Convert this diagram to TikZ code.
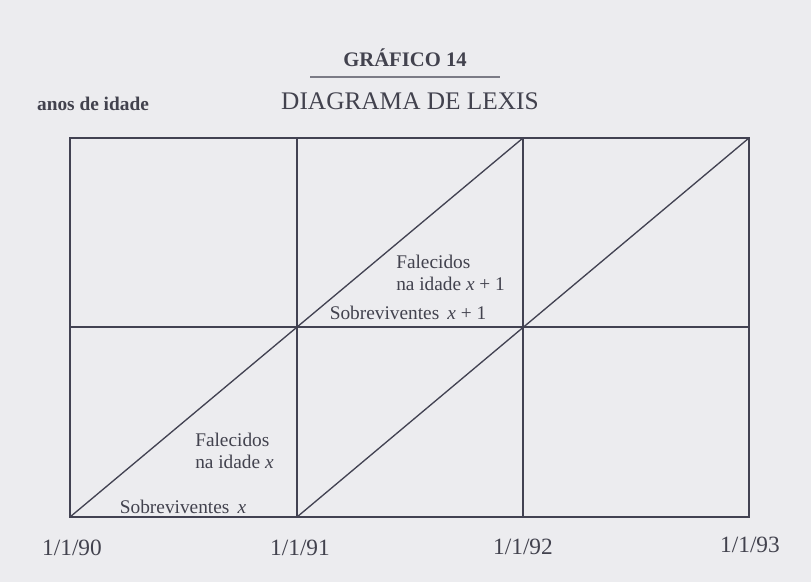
\documentclass[tikz,border=0pt]{standalone}
\usepackage{fontspec}
\setmainfont{Liberation Serif}
\definecolor{paper}{RGB}{236,236,239}
\definecolor{ink}{RGB}{66,66,82}
\definecolor{txt}{RGB}{66,66,78}
\newcommand{\xv}{\textit{x}}
\begin{document}
\begin{tikzpicture}[x=0.75pt,y=-0.75pt,
  grid/.style={draw=ink,line width=1pt},
  lbl/.style={text=txt,font=\fontsize{14.5}{16.5}\selectfont,inner sep=0pt},
  date/.style={text=txt,font=\fontsize{17.5}{20}\selectfont,inner sep=0pt}]
\useasboundingbox (0,0) rectangle (811,582);
\fill[paper] (0,0) rectangle (811,582);
% grid points
\foreach \c/\x in {0/70,1/297,2/523,3/749}{
  \coordinate (A\c) at (\x,517);
  \coordinate (M\c) at (\x,327);
  \coordinate (T\c) at (\x,138);
}
% frame and lines
\draw[grid] (A0) rectangle (T3);
\draw[grid] (M0) -- (M3);
\draw[grid] (A1) -- (T1);
\draw[grid] (A2) -- (T2);
\draw[grid] (A0) -- (T2);
\draw[grid] (A1) -- (T3);
% titles
\node[text=txt,font=\bfseries\fontsize{15.5}{18}\selectfont,inner sep=0pt] (tit) at (405,58) {GRÁFICO 14};
\draw[draw=ink!70,line width=0.8pt] (310,77) coordinate (ul1) -- (500,77) coordinate (ul2);
\node[text=txt,font=\fontsize{19}{22}\selectfont,inner sep=0pt] (sub) at (410,101) {DIAGRAMA DE LEXIS};
\node[text=txt,font=\bfseries\fontsize{14.5}{16}\selectfont,inner sep=0pt] (yl) at (93,104) {anos de idade};
% labels
\node[lbl,align=left,anchor=west] (f1) at (195,451) {Falecidos\\na idade \xv};
\node[lbl] (s1) at (183,507) {Sobreviventes \,\xv};
\node[lbl,align=left,anchor=west] (f2) at (396,273) {Falecidos\\na idade \xv{} + 1};
\node[lbl] (s2) at (408,313) {Sobreviventes \,\xv{} + 1};
% dates
\node[date] (d0) at (72,548) {1/1/90};
\node[date] (d1) at (300,548) {1/1/91};
\node[date] (d2) at (523,547) {1/1/92};
\node[date] (d3) at (750,545) {1/1/93};
\end{tikzpicture}
\end{document}
